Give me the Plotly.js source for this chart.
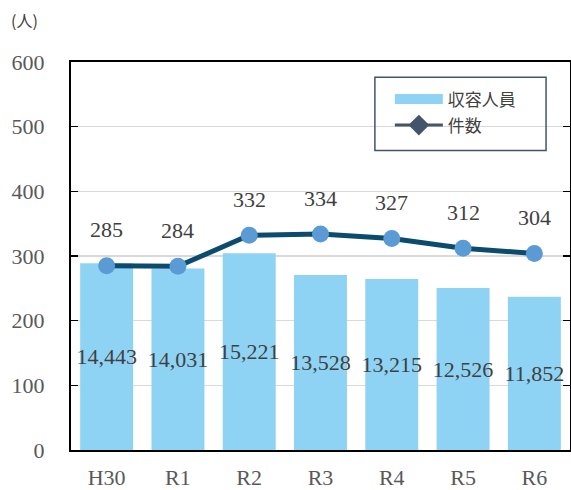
<!DOCTYPE html>
<html>
<head>
<meta charset="utf-8">
<script src="https://cdn.plot.ly/plotly-3.0.1.min.js"></script>
<style>html,body{margin:0;padding:0;background:#fff;}#chart{width:571px;height:490px;}</style>
</head>
<body>
<div id="chart"></div>
<script>
var categories = ['H30', 'R1', 'R2', 'R3', 'R4', 'R5', 'R6'];
var capacityValues = [14443, 14031, 15221, 13528, 13215, 12526, 11852];
var countValues = [285, 284, 332, 334, 327, 312, 304];
var yTicks = [0, 100, 200, 300, 400, 500, 600];
var barName = '収容人員';
var lineName = '件数';
var unitLabel = '(人)';

var FONT = 'Liberation Serif, DejaVu Serif, Noto Sans CJK JP, serif';
var CJK = 'Noto Sans CJK JP, Liberation Serif, sans-serif';

var traces = [
  {
    type: 'bar', x: categories, y: capacityValues, xaxis: 'x', yaxis: 'y',
    marker: {color: '#8FD3F4'}, showlegend: false, name: barName,
    texttemplate: '%{y:,d}', textposition: 'inside', insidetextanchor: 'middle',
    textangle: 0, constraintext: 'none',
    insidetextfont: {family: FONT, size: 22, color: '#404040'},
    hoverinfo: 'skip'
  },
  {
    type: 'scatter', mode: 'lines+markers', x: categories, y: countValues,
    xaxis: 'x', yaxis: 'y2', showlegend: false, name: lineName,
    line: {color: '#0B4B6E', width: 5},
    marker: {color: '#5B9BD5', size: 17, line: {width: 0}},
    hoverinfo: 'skip'
  },
  {
    type: 'scatter', mode: 'lines', x: [null], y: [null], xaxis: 'x', yaxis: 'y2',
    name: barName, legendgroup: 'a',
    line: {color: '#8FD3F4', width: 11}
  },
  {
    type: 'scatter', mode: 'lines+markers', x: [null], y: [null], xaxis: 'x', yaxis: 'y2',
    name: lineName, legendgroup: 'b',
    line: {color: '#44546A', width: 3},
    marker: {symbol: 'diamond', color: '#44546A', size: 16}
  }
];

var annotations = categories.map(function (c, i) {
  return {
    x: c, y: countValues[i], xref: 'x', yref: 'y2', yshift: 36,
    text: String(countValues[i]), showarrow: false,
    font: {family: FONT, size: 22, color: '#404040'}
  };
});
annotations.push({
  xref: 'paper', yref: 'paper', x: -0.125, y: 1.108, xanchor: 'left', yanchor: 'middle',
  text: unitLabel, showarrow: false, font: {family: CJK, size: 16, color: '#404040'}
});

var layout = {
  width: 571, height: 490,
  margin: {l: 71, r: 1, t: 62, b: 40, pad: 0},
  paper_bgcolor: '#fff', plot_bgcolor: '#fff',
  font: {family: FONT, color: '#595959'},
  showlegend: true,
  legend: {
    x: 0.639, y: 0.95, xanchor: 'left', yanchor: 'top',
    bgcolor: 'rgba(0,0,0,0)', borderwidth: 0,
    font: {family: CJK, size: 17, color: '#404040'},
    itemwidth: 48, traceorder: 'grouped', tracegroupgap: 1,
    itemclick: false
  },
  bargap: 0.257,
  xaxis: {
    type: 'category', range: [-0.5, 6.5], showline: true, mirror: true,
    linecolor: '#000', linewidth: 2, ticks: '', showgrid: false,
    tickfont: {family: FONT, size: 22, color: '#595959'},
    ticklabelstandoff: 7, fixedrange: true
  },
  yaxis: {
    range: [0, 30000], visible: false, showgrid: false, fixedrange: true
  },
  yaxis2: {
    overlaying: 'y', side: 'left', range: [0, 600], tickvals: yTicks,
    showgrid: true, gridcolor: '#D9D9D9', gridwidth: 1.5,
    showline: true, mirror: 'ticks', linecolor: '#000', linewidth: 2,
    ticks: 'inside', ticklen: 7, tickwidth: 1.5, tickcolor: '#000',
    zeroline: false,
    tickfont: {family: FONT, size: 22, color: '#595959'},
    ticklabelstandoff: 20, fixedrange: true
  },
  shapes: [{
    type: 'rect', xref: 'paper', yref: 'paper',
    x0: 0.609, x1: 0.952, y0: 0.772, y1: 0.961,
    line: {color: '#44546A', width: 1.5}, fillcolor: 'rgba(0,0,0,0)', layer: 'above'
  }],
  annotations: annotations
};

Plotly.newPlot('chart', traces, layout, {displayModeBar: false, staticPlot: true});
</script>
</body>
</html>
